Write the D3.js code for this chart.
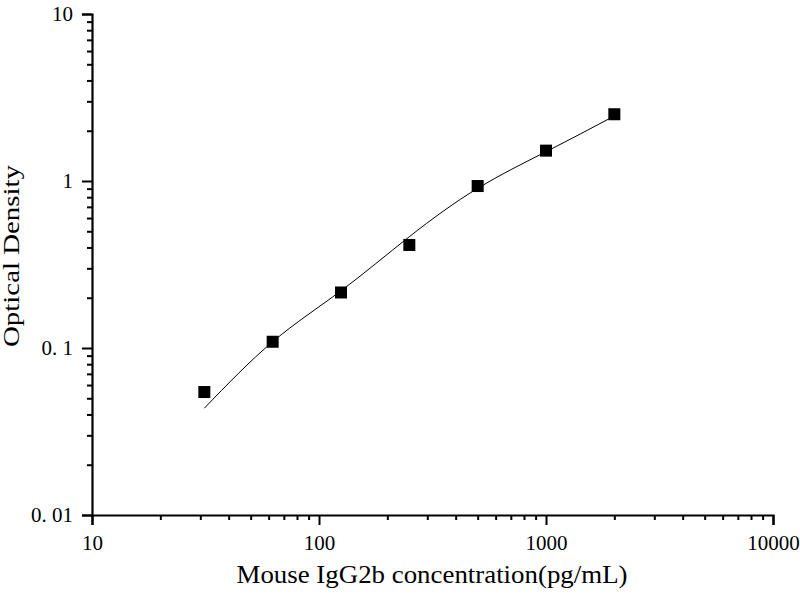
<!DOCTYPE html>
<html>
<head>
<meta charset="utf-8">
<script src="https://cdn.jsdelivr.net/npm/d3@7"></script>
<style>
  body { margin: 0; background: #fff; }
  text { font-family: "Liberation Serif", "Times New Roman", serif; fill: #000; }
</style>
</head>
<body>
<div id="chart"></div>
<script>
// standards (pg/mL) and measured OD
var conc = [31.25, 62.5, 125, 250, 500, 1000, 2000];
var od = [0.0545, 0.109, 0.215, 0.414, 0.933, 1.52, 2.51];
// fitted curve at the same concentrations
var fitOd = [0.0436, 0.109, 0.220, 0.464, 0.904, 1.497, 2.45];
var xTicks = [10, 100, 1000, 10000];
var yTicks = [0.01, 0.1, 1, 10];
var yTickLabels = ["0. 01", "0. 1", "1", "10"];

var width = 800, height = 600;
var svg = d3.select("#chart").append("svg")
  .attr("width", width)
  .attr("height", height);

var x = d3.scaleLog().domain([10, 10000]).range([92, 773]);
var y = d3.scaleLog().domain([0.01, 10]).range([515, 14]);

// minor ticks 2..9 in each decade
var minorX = [], minorY = [];
[10, 100, 1000].forEach(function(d) {
  for (var k = 2; k < 10; k++) minorX.push(d * k);
});
[0.01, 0.1, 1].forEach(function(d) {
  for (var k = 2; k < 10; k++) minorY.push(+(d * k).toPrecision(3));
});

var xAxis = svg.append("g").attr("transform", "translate(0,515)");
xAxis.call(d3.axisBottom(x).tickValues(xTicks).tickFormat(d3.format("d")).tickSize(10).tickPadding(10));
xAxis.append("g").call(d3.axisBottom(x).tickValues(minorX).tickFormat("").tickSize(5))
  .select(".domain").remove();

var yAxis = svg.append("g").attr("transform", "translate(92,0)");
yAxis.call(d3.axisLeft(y).tickValues(yTicks).tickFormat(function(d, i) { return yTickLabels[i]; }).tickSize(10).tickPadding(9));
yAxis.append("g").call(d3.axisLeft(y).tickValues(minorY).tickFormat("").tickSize(5))
  .select(".domain").remove();

svg.selectAll(".domain").attr("stroke", "#000").attr("stroke-width", 2.2);
svg.selectAll(".tick line").attr("stroke", "#000").attr("stroke-width", 2);
svg.selectAll(".tick text").style("font-size", "21px").style("font-family", "Liberation Serif");

// fitted curve
var line = d3.line()
  .x(function(d, i) { return x(conc[i]); })
  .y(function(d) { return y(d); })
  .curve(d3.curveNatural);
svg.append("path")
  .datum(fitOd)
  .attr("d", line)
  .attr("fill", "none")
  .attr("stroke", "#000")
  .attr("stroke-width", 1);

// points
var s = 12;
svg.selectAll("rect.pt").data(od)
  .enter().append("rect")
  .attr("class", "pt")
  .attr("x", function(d, i) { return x(conc[i]) - s / 2; })
  .attr("y", function(d) { return y(d) - s / 2; })
  .attr("width", s)
  .attr("height", s)
  .attr("fill", "#000");

// axis titles
svg.append("text")
  .attr("x", 432).attr("y", 583)
  .attr("text-anchor", "middle")
  .attr("textLength", 391)
  .attr("lengthAdjust", "spacingAndGlyphs")
  .style("font-size", "25px")
  .text("Mouse IgG2b concentration(pg/mL)");

svg.append("text")
  .attr("transform", "translate(19,256) rotate(-90)")
  .attr("text-anchor", "middle")
  .attr("textLength", 182)
  .attr("lengthAdjust", "spacingAndGlyphs")
  .style("font-size", "23px")
  .text("Optical Density");
</script>
</body>
</html>
